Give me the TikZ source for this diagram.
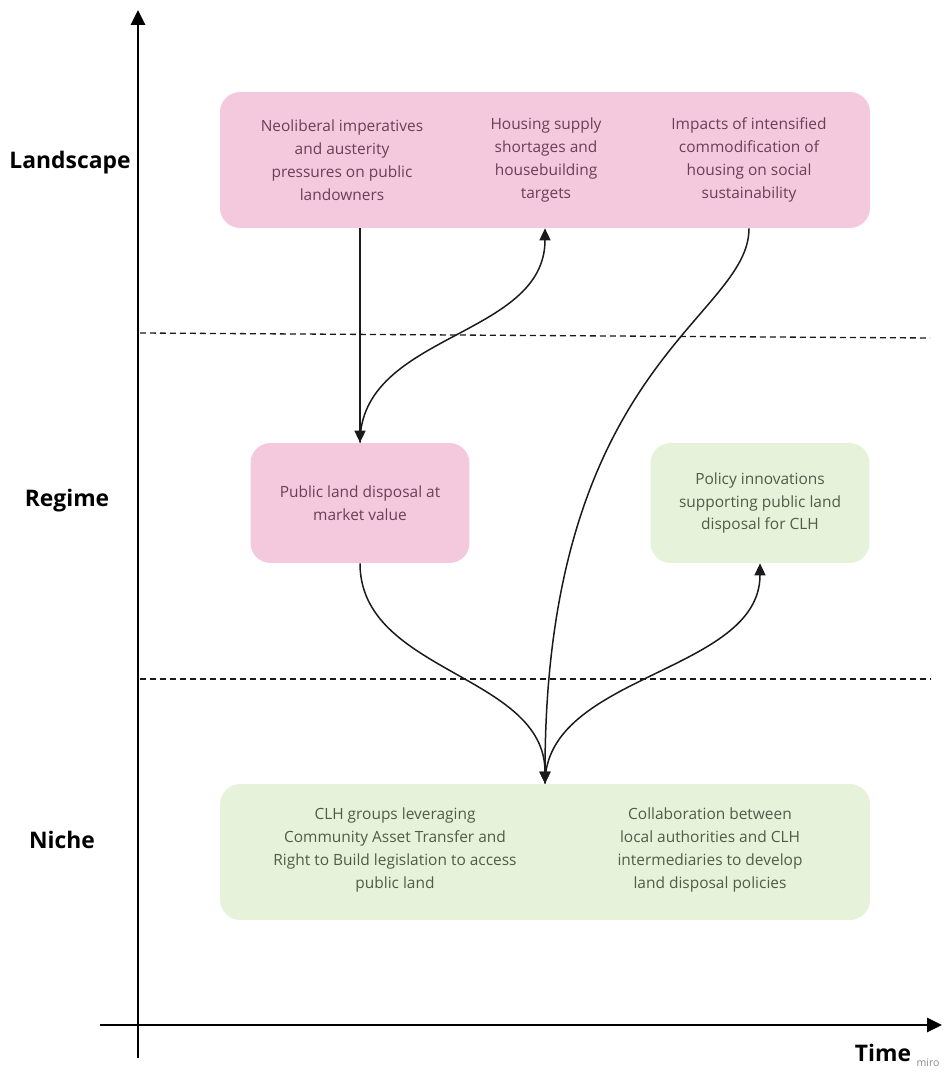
\documentclass[tikz,border=0pt]{standalone}
\usepackage{fontspec}
\setmainfont{Open Sans}
\usetikzlibrary{arrows.meta}
\definecolor{pinkfill}{HTML}{F5C9DD}
\definecolor{pinktext}{HTML}{6A3F57}
\definecolor{greenfill}{HTML}{E6F2D9}
\definecolor{greentext}{HTML}{4F5C4A}
\definecolor{darkline}{HTML}{1A1A1A}
\tikzset{
  card/.style={rectangle, rounded corners=0.4cm, draw=none, align=center},
  pinkcard/.style={card, fill=pinkfill},
  greencard/.style={card, fill=greenfill},
  pinktxt/.style={align=center, text=pinktext, font=\fontsize{8.8}{13}\selectfont},
  greentxt/.style={align=center, text=greentext, font=\fontsize{8.8}{13}\selectfont},
  level/.style={font=\fontsize{13}{15}\selectfont\bfseries},
  flow/.style={-{Triangle[length=2.4mm, width=2.2mm]}, line width=0.85pt, draw=darkline},
  axis/.style={-{Triangle[length=3mm, width=2.8mm]}, line width=1.6pt, draw=black},
  divider/.style={dash pattern=on 1.2mm off 0.8mm, line width=0.75pt, draw=darkline}
}
\def\wide{13cm}
\def\tall{2.72cm}

\begin{document}
\begin{tikzpicture}[x=0.02cm, y=-0.02cm]
\useasboundingbox (0,0) rectangle (947,1074);

%% Axes
\coordinate (ybot) at (138,1058);
\coordinate (ytop) at (138,10);
\coordinate (xleft) at (100,1025);
\coordinate (xright) at (942,1025);
\draw[axis] (ybot) -- (ytop);
\draw[axis] (xleft) -- (xright);
\node[level] (timelbl) at (883,1053) {Time};
\node[font=\fontsize{6}{7}\selectfont, text=black!45] (mirolbl) at (928,1063) {miro};

%% Level labels
\node[level] (landlbl)  at (70,163) {Landscape};
\node[level] (regimelbl) at (67,501) {Regime};
\node[level] (nichelbl) at (62,840) {Niche};

%% Dividers
\coordinate (d1a) at (140,333);
\coordinate (d1b) at (930,338);
\coordinate (d2a) at (140,679);
\coordinate (d2b) at (930,679);
\draw[divider] (d1a) -- (d1b);
\draw[divider] (d2a) -- (d2b);

%% Landscape
\node[pinkcard, minimum width=\wide, minimum height=\tall] (landscape) at (545,160) {};
\node[pinktxt] (neolib)  at (342,160) {Neoliberal imperatives\\and austerity\\pressures on public\\landowners};
\node[pinktxt] (supply)  at (546,160) {Housing supply\\shortages and\\housebuilding\\targets};
\node[pinktxt] (impacts) at (749,160) {Impacts of intensified\\commodification of\\housing on social\\sustainability};

%% Regime
\node[pinkcard, minimum width=4.38cm, minimum height=2.4cm] (regime) at (360,503) {};
\node[pinktxt] (regimetxt) at (360,503) {Public land disposal at\\market value};
\node[greencard, minimum width=4.38cm, minimum height=2.4cm] (policy) at (760,503) {};
\node[greentxt] (policytxt) at (760,503) {Policy innovations\\supporting public land\\disposal for CLH};

%% Niche
\node[greencard, minimum width=\wide, minimum height=\tall] (niche) at (545,852) {};
\node[greentxt] (leverage) at (395,850) {CLH groups leveraging\\Community Asset Transfer and\\Right to Build legislation to access\\public land};
\node[greentxt] (collab)   at (710,850) {Collaboration between\\local authorities and CLH\\intermediaries to develop\\land disposal policies};

%% Flow
% Neoliberal pressures -> market value disposal
\draw[flow] (regime.north |- landscape.south) -- (regime.north);
% Market value disposal -> housing supply
\draw[flow] (regime.north) .. controls +(0,-110) and +(0,110) .. (landscape.south);
% Commodification impacts -> niche
\draw[flow] (impacts |- landscape.south) .. controls +(0,90) and +(0,-420) .. (niche.north);
% Market value disposal -> niche
\draw[flow] (regime.south) .. controls +(0,110) and +(0,-110) .. (niche.north);
% Niche -> policy innovations
\draw[flow] (niche.north) .. controls +(0,-110) and +(0,110) .. (policy.south);

\end{tikzpicture}
\end{document}
